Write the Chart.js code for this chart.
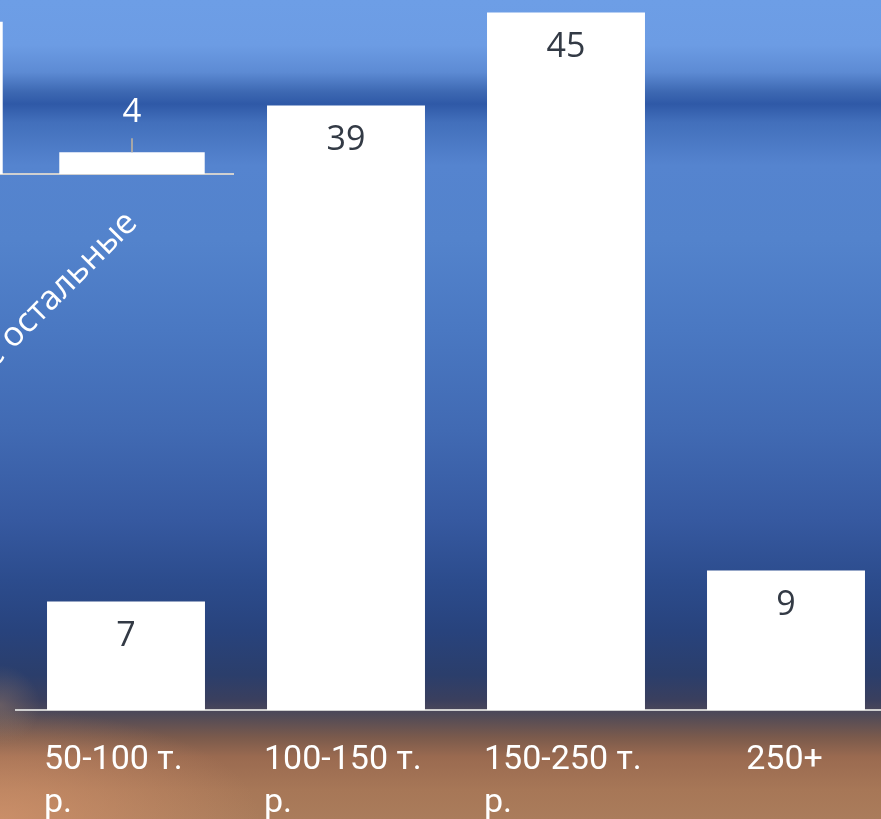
<!DOCTYPE html>
<html>
<head>
<meta charset="utf-8">
<script src="https://cdn.jsdelivr.net/npm/chart.js@4.4.0/dist/chart.umd.min.js"></script>
<style>
    html, body { margin: 0; padding: 0; width: 881px; height: 819px; overflow: hidden; }
    body {
        position: relative;
        background:
            radial-gradient(ellipse 40px 40px at 0px 705px, rgba(160, 130, 110, 0.4), rgba(160, 130, 110, 0)),
            radial-gradient(ellipse 260px 110px at 0px 819px, rgba(215, 150, 110, 0.7), rgba(215, 150, 110, 0)),
            linear-gradient(to bottom,
                #6d9ee6 0px, #6c9ce4 45px, #5d8bd4 72px, #3d68b2 92px, #2f59a7 104px,
                #426fbb 122px, #5584cf 165px, #5383cc 240px, #4a78c2 330px, #416ab3 430px,
                #3659a0 520px, #2c4c8d 580px, #28437d 630px, #2b3e6b 675px, #3a3f5e 700px,
                #524b57 716px, #7a5a4c 737px, #9a6a50 757px, #a77757 790px, #aa7c5b 819px);
    }
    #insetWrap { position: absolute; left: -300px; top: 0; width: 540px; height: 420px; }
    #mainWrap { position: absolute; left: 0; top: 0; width: 960px; height: 819px; }
</style>
</head>
<body>
<div id="insetWrap"><canvas id="insetChart"></canvas></div>
<div id="mainWrap"><canvas id="mainChart"></canvas></div>
<script>
// main chart data
const mainLabels = [['50-100 т.', 'р.'], ['100-150 т.', 'р.'], ['150-250 т.', 'р.'], '     250+'];
const mainValues = [7, 39, 45, 9];

// small chart in the top left corner (mostly cut off)
const insetLabels = ['Москва', 'Все остальные'];
const insetValues = [28, 4];

// value labels drawn at the bars
const valueLabels = {
    id: 'valueLabels',
    afterDatasetsDraw(chart, args, opts) {
        const ctx = chart.ctx;
        const values = chart.data.datasets[0].data;
        ctx.save();
        ctx.font = opts.font;
        ctx.textAlign = 'center';
        ctx.textBaseline = 'middle';
        chart.getDatasetMeta(0).data.forEach((bar, i) => {
            if (opts.leader) {
                ctx.strokeStyle = '#a6a6a6';
                ctx.lineWidth = 2;
                ctx.beginPath();
                ctx.moveTo(bar.x, bar.y);
                ctx.lineTo(bar.x, bar.y - opts.leader);
                ctx.stroke();
            }
            ctx.fillStyle = opts.color;
            ctx.fillText(values[i], bar.x, bar.y + opts.offset);
        });
        ctx.restore();
    }
};

const insetChart = new Chart(document.getElementById('insetChart'), {
    type: 'bar',
    data: {
        labels: insetLabels,
        datasets: [{
            data: insetValues,
            backgroundColor: '#ffffff',
            barPercentage: 0.72,
            categoryPercentage: 1
        }]
    },
    options: {
        responsive: true,
        maintainAspectRatio: false,
        animation: false,
        layout: { padding: { left: 129, right: 7, top: 0, bottom: 0 } },
        plugins: {
            legend: { display: false },
            tooltip: { enabled: false },
            valueLabels: { font: '33px "Open Sans"', color: '#ffffff', offset: -40, leader: 14 }
        },
        scales: {
            y: { display: false, min: 0, max: 32 },
            x: {
                grid: { display: false, drawTicks: false },
                border: { color: '#d0d0d0', width: 2 },
                ticks: {
                    color: '#ffffff',
                    font: { family: 'Open Sans', size: 34 },
                    minRotation: 45,
                    maxRotation: 45,
                    padding: 29
                },
                afterFit: function(scale) {
                    scale.height = 246;
                }
            }
        }
    },
    plugins: [valueLabels]
});

const mainChart = new Chart(document.getElementById('mainChart'), {
    type: 'bar',
    data: {
        labels: mainLabels,
        datasets: [{
            data: mainValues,
            backgroundColor: '#ffffff',
            barPercentage: 0.718,
            categoryPercentage: 1
        }]
    },
    options: {
        responsive: true,
        maintainAspectRatio: false,
        animation: false,
        layout: { padding: { left: 16, right: 64, top: 0, bottom: 0 } },
        plugins: {
            legend: { display: false },
            tooltip: { enabled: false },
            valueLabels: { font: '34px "Open Sans"', color: '#333a45', offset: 35 }
        },
        scales: {
            y: { display: false, min: 0, max: 45.8 },
            x: {
                grid: { display: false, drawTicks: false },
                border: { color: '#cfcfcf', width: 2 },
                ticks: {
                    color: '#ffffff',
                    font: { family: 'Roboto', size: 34, lineHeight: 1.27 },
                    align: 'start',
                    labelOffset: -82,
                    padding: 29,
                    maxRotation: 0,
                    autoSkip: false
                },
                afterFit: function(scale) {
                    scale.height = 109;
                }
            }
        }
    },
    plugins: [valueLabels]
});
</script>
</body>
</html>
